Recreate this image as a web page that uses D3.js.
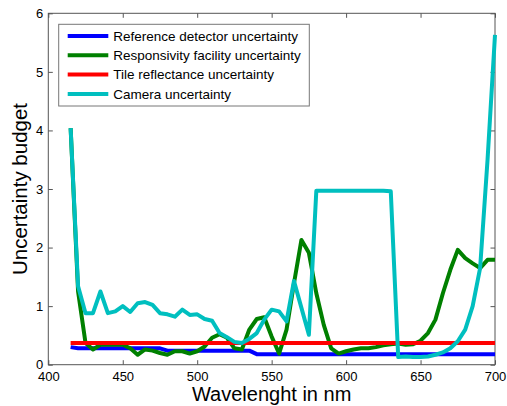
<!DOCTYPE html>
<html>
<head>
<meta charset="utf-8">
<script src="https://cdn.jsdelivr.net/npm/d3@7"></script>
<style>
  body { margin: 0; background: #fff; }
  svg { display: block; font-family: "Liberation Sans", Arial, sans-serif; }
</style>
</head>
<body>
<div id="chart"></div>
<script>
// wavelengths 415..700 step 5
const wavelengths = [415,420,425,430,435,440,445,450,455,460,465,470,475,480,485,490,495,500,
  505,510,515,520,525,530,535,540,545,550,555,560,565,570,575,580,585,590,595,600,
  605,610,615,620,625,630,635,640,645,650,655,660,665,670,675,680,685,690,695,700];

const referenceDetector = [0.30,0.28,0.28,0.28,0.28,0.28,0.28,0.28,0.28,0.28,0.28,0.28,0.28,0.24,0.24,0.24,0.24,0.24,
  0.24,0.24,0.24,0.24,0.24,0.24,0.24,0.18,0.18,0.18,0.18,0.18,0.18,0.18,0.18,0.18,0.18,0.18,0.18,0.18,
  0.18,0.18,0.18,0.18,0.18,0.18,0.18,0.18,0.18,0.18,0.18,0.18,0.18,0.18,0.18,0.18,0.18,0.18,0.18,0.18];

const responsivityFacility = [4.04,1.25,0.37,0.26,0.34,0.34,0.34,0.34,0.28,0.17,0.26,0.24,0.20,0.17,0.23,0.23,0.19,0.23,
  0.31,0.46,0.52,0.46,0.28,0.26,0.60,0.78,0.81,0.48,0.19,0.60,1.39,2.13,1.91,1.22,0.68,0.28,0.19,0.23,
  0.26,0.28,0.28,0.30,0.33,0.35,0.36,0.34,0.35,0.41,0.54,0.77,1.22,1.62,1.96,1.82,1.73,1.65,1.79,1.79];

const tileReflectance = [0.37,0.37,0.37,0.37,0.37,0.37,0.37,0.37,0.37,0.37,0.37,0.37,0.37,0.37,0.37,0.37,0.37,0.37,
  0.37,0.37,0.37,0.37,0.37,0.37,0.37,0.37,0.37,0.37,0.37,0.37,0.37,0.37,0.37,0.37,0.37,0.37,0.37,0.37,
  0.37,0.37,0.37,0.37,0.37,0.37,0.37,0.37,0.37,0.37,0.37,0.37,0.37,0.37,0.37,0.37,0.37,0.37,0.37,0.37];

const camera = [4.04,1.34,0.88,0.88,1.25,0.88,0.91,1.00,0.90,1.05,1.07,1.02,0.88,0.86,0.82,0.94,0.85,0.86,
  0.78,0.75,0.54,0.47,0.39,0.37,0.44,0.54,0.77,0.94,0.91,0.74,1.43,0.97,0.51,2.97,2.97,2.97,2.97,2.97,
  2.97,2.97,2.97,2.97,2.97,2.96,0.13,0.14,0.13,0.13,0.14,0.17,0.21,0.28,0.40,0.60,1.00,1.65,3.50,5.63];

const seriesNames = ["Reference detector uncertainty", "Responsivity facility uncertainty",
  "Tile reflectance uncertainty", "Camera uncertainty"];
const seriesValues = [referenceDetector, responsivityFacility, tileReflectance, camera];
const seriesColors = ["#0000ff", "#008000", "#ff0000", "#00bfbf"];

const xTicks = [400, 450, 500, 550, 600, 650, 700];
const yTicks = [0, 1, 2, 3, 4, 5, 6];

const width = 507, height = 406;
const margin = { top: 13.3, right: 12, bottom: 41.3, left: 48.3 };
const innerW = width - margin.left - margin.right;
const innerH = height - margin.top - margin.bottom;

const svg = d3.select("#chart").append("svg")
  .attr("width", width)
  .attr("height", height);

const x = d3.scaleLinear().domain([400, 700]).range([margin.left, margin.left + innerW]);
const y = d3.scaleLinear().domain([0, 6]).range([margin.top + innerH, margin.top]);

const g = svg.append("g");

// axes (matlab style, ticks inward on all sides)
const axisColor = "#555";
const tickLen = 4.5;

g.append("g")
  .attr("transform", `translate(0,${y(0)})`)
  .call(d3.axisBottom(x).tickValues(xTicks).tickSize(-tickLen).tickPadding(7).tickFormat(d3.format("d")))
  .call(s => s.select(".domain").remove());
g.append("g")
  .attr("transform", `translate(0,${y(6)})`)
  .call(d3.axisTop(x).tickValues(xTicks).tickSize(-tickLen).tickFormat(""))
  .call(s => s.select(".domain").remove());
g.append("g")
  .attr("transform", `translate(${x(400)},0)`)
  .call(d3.axisLeft(y).tickValues(yTicks).tickSize(-tickLen).tickPadding(5).tickFormat(d3.format("d")))
  .call(s => s.select(".domain").remove());
g.append("g")
  .attr("transform", `translate(${x(700)},0)`)
  .call(d3.axisRight(y).tickValues(yTicks).tickSize(-tickLen).tickFormat(""))
  .call(s => s.select(".domain").remove());

g.selectAll("g").attr("font-family", null);
g.selectAll(".tick line").attr("stroke", axisColor);
g.selectAll(".tick text").attr("font-size", "13px").attr("fill", "#000");

g.append("rect")
  .attr("x", x(400)).attr("y", y(6))
  .attr("width", x(700) - x(400)).attr("height", y(0) - y(6))
  .attr("fill", "none").attr("stroke", axisColor).attr("stroke-width", 1);

// lines
const line = d3.line()
  .x((d, i) => x(wavelengths[i]))
  .y(d => y(d));

seriesValues.forEach((vals, k) => {
  svg.append("path")
    .datum(vals)
    .attr("d", line)
    .attr("fill", "none")
    .attr("stroke", seriesColors[k])
    .attr("stroke-width", 4)
    .attr("stroke-linejoin", "round");
});

// axis titles
svg.append("text")
  .attr("x", (x(400) + x(700)) / 2)
  .attr("y", 401)
  .attr("text-anchor", "middle")
  .attr("font-size", "20px")
  .text("Wavelenght in nm");

svg.append("text")
  .attr("transform", `translate(27,${(y(0) + y(6)) / 2}) rotate(-90)`)
  .attr("text-anchor", "middle")
  .attr("font-size", "20.5px")
  .text("Uncertainty budget");

// legend
const legend = svg.append("g").attr("transform", "translate(58.7,24.3)");
legend.append("rect")
  .attr("width", 250.6).attr("height", 81.7)
  .attr("fill", "#fff").attr("stroke", "#777").attr("stroke-width", 1);

seriesNames.forEach((name, i) => {
  const row = legend.append("g").attr("transform", `translate(0,${11.7 + i * 19.3})`);
  row.append("line")
    .attr("x1", 9).attr("x2", 49.6)
    .attr("stroke", seriesColors[i]).attr("stroke-width", 4);
  row.append("text")
    .attr("x", 54.6).attr("y", 4.8)
    .attr("font-size", "13.5px")
    .text(name);
});
</script>
</body>
</html>
